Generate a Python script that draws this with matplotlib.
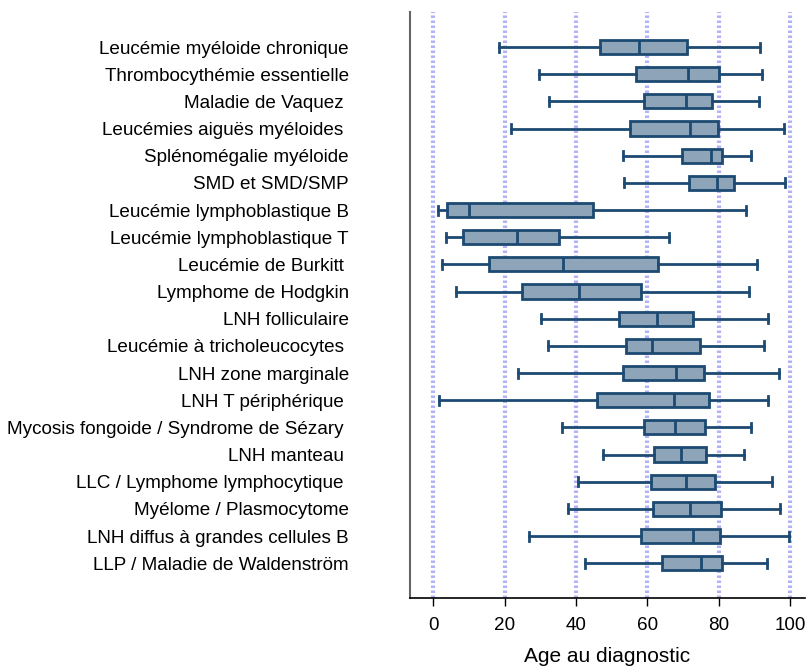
import matplotlib
matplotlib.use('Agg')
import matplotlib.pyplot as plt

plt.rcParams['font.family'] = ['Liberation Sans', 'DejaVu Sans']

# Diagnoses, top to bottom
diagnoses = [
    "Leucémie myéloide chronique",
    "Thrombocythémie essentielle",
    "Maladie de Vaquez ",
    "Leucémies aiguës myéloides ",
    "Splénomégalie myéloide",
    "SMD et SMD/SMP",
    "Leucémie lymphoblastique B",
    "Leucémie lymphoblastique T",
    "Leucémie de Burkitt ",
    "Lymphome de Hodgkin",
    "LNH folliculaire",
    "Leucémie à tricholeucocytes ",
    "LNH zone marginale",
    "LNH T périphérique ",
    "Mycosis fongoide / Syndrome de Sézary ",
    "LNH manteau ",
    "LLC / Lymphome lymphocytique ",
    "Myélome / Plasmocytome",
    "LNH diffus à grandes cellules B",
    "LLP / Maladie de Waldenström",
]

# Age at diagnosis summary (whisker low, Q1, median, Q3, whisker high)
whisker_lo = [18.3, 29.6, 32.5, 21.7, 53.2, 53.5, 1.2, 3.5, 2.5, 6.3,
              30.3, 32.1, 23.8, 1.6, 36.1, 47.5, 40.6, 37.8, 26.9, 42.4]
q1 = [46.7, 56.7, 59.1, 55.2, 69.6, 71.7, 3.9, 8.4, 15.6, 25.0,
      52.0, 53.9, 53.1, 45.9, 59.0, 61.8, 60.9, 61.5, 58.2, 64.2]
median = [57.5, 71.3, 70.9, 71.9, 77.7, 79.5, 10.1, 23.4, 36.4, 40.8,
          62.6, 61.4, 68.0, 67.5, 67.6, 69.4, 70.7, 71.9, 72.7, 74.9]
q3 = [71.1, 80.0, 78.2, 79.7, 80.9, 84.3, 44.8, 35.1, 62.9, 58.2,
      72.7, 74.7, 75.7, 77.1, 76.2, 76.5, 78.9, 80.5, 80.3, 80.9]
whisker_hi = [91.4, 92.0, 91.1, 98.3, 89.0, 98.5, 87.6, 66.1, 90.6, 88.3,
              93.8, 92.7, 96.7, 93.8, 88.9, 86.9, 94.9, 97.0, 99.5, 93.5]

xticks = [0, 20, 40, 60, 80, 100]

edge = '#1c4a72'
fill = '#8ea4b9'

fig = plt.figure(figsize=(8.06, 6.68), dpi=100)
ax = fig.add_axes([0.5087, 0.1052, 0.49, 0.8764])

for x in xticks:
    ax.axvline(x, color='#8080f0', lw=3, ls=(0, (0.6, 0.6)), alpha=0.6, zorder=0)

stats = []
for i in range(len(diagnoses)):
    stats.append({'whislo': whisker_lo[i], 'q1': q1[i], 'med': median[i],
                  'q3': q3[i], 'whishi': whisker_hi[i], 'fliers': []})

positions = list(range(len(diagnoses)))
ax.bxp(stats, positions=positions, vert=False, widths=0.52, capwidths=0.33,
       patch_artist=True, showfliers=False,
       boxprops=dict(facecolor=fill, edgecolor=edge, lw=2.0),
       medianprops=dict(color=edge, lw=2.0),
       whiskerprops=dict(color=edge, lw=2.0),
       capprops=dict(color=edge, lw=2.0), zorder=2)

ax.set_ylim(len(diagnoses) - 1 + 1.27, -1.28)
ax.set_xlim(-6.5, 104.1)

ax.set_yticks(positions)
ax.set_yticklabels(diagnoses, fontsize=13.6)
ax.tick_params(axis='y', length=0, pad=44)

ax.set_xticks(xticks)
ax.set_xticklabels([str(t) for t in xticks], fontsize=13.6)
ax.tick_params(axis='x', length=6, width=1, pad=8)
ax.set_xlabel('Age au diagnostic', fontsize=15, labelpad=9)

ax.spines['top'].set_visible(False)
ax.spines['right'].set_visible(False)
ax.spines['left'].set_color('#666666')
ax.spines['left'].set_linewidth(1.5)
ax.spines['bottom'].set_linewidth(1.2)

fig.savefig('out.png', dpi=100)
